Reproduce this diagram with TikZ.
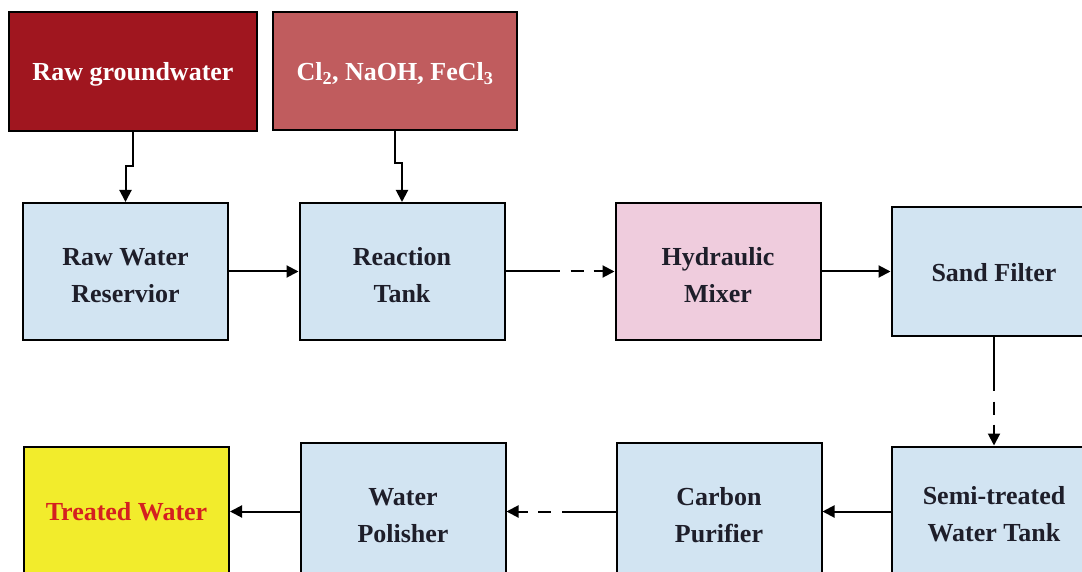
\documentclass[tikz,border=0pt]{standalone}
\usepackage{fontspec}
\setmainfont{Liberation Serif}
\usepackage{xcolor}
\usepackage{tikz}
\usetikzlibrary{arrows.meta}

\definecolor{stageblue}{HTML}{D2E4F2}
\definecolor{mixpink}{HTML}{EFCCDD}
\definecolor{rawred}{HTML}{A0161F}
\definecolor{chemred}{HTML}{C05C5E}
\definecolor{outyellow}{HTML}{F2EC2C}
\definecolor{outtext}{HTML}{D42020}
\definecolor{inktext}{HTML}{1E1E2A}

\tikzset{
  stagebox/.style={draw, rectangle, line width=2pt, fill=stageblue, text=inktext,
    minimum width=205pt, minimum height=137pt, align=center, text height=61pt, text depth=0pt},
  oneline/.style={text height=25pt, text depth=6pt},
  flow/.style={line width=2pt, -{Triangle[length=12pt, width=12pt]}},
  dashflow/.style={flow, dash pattern=on 54pt off 11pt on 13pt off 10pt on 60pt}
}

\begin{document}
\begin{tikzpicture}[x=1pt, y=-1pt, node distance=276pt,
    every node/.style={font=\fontsize{26}{37}\selectfont\bfseries}]
    \useasboundingbox (0,0) rectangle (1082,572);

    % Middle row
    \node[stagebox] (reservoir) at (125.5,271.5) {Raw Water\\Reservior};
    \node[stagebox, right of=reservoir, xshift=0.5pt] (reaction) {Reaction\\Tank};
    \node[stagebox, fill=mixpink, right of=reaction, xshift=40pt] (mixer) {Hydraulic\\Mixer};
    \node[stagebox, oneline, minimum height=128pt, right of=mixer] (sand) {Sand Filter};

    % Inputs
    \node[draw, rectangle, line width=2pt, fill=rawred, text=white, minimum width=248pt,
      minimum height=119pt, oneline, above of=reservoir, node distance=200pt, xshift=7.5pt] (ground) {Raw groundwater};
    \node[draw, rectangle, line width=2pt, fill=chemred, text=white, minimum width=244pt,
      minimum height=118pt, oneline, above of=reaction, node distance=200.5pt, xshift=-7pt] (chem)
      {Cl\textsubscript{2}, NaOH, FeCl\textsubscript{3}};

    % Bottom row
    \node[stagebox, minimum height=128pt, below of=sand, node distance=239pt] (semi) {Semi-treated\\Water Tank};
    \node[stagebox, left of=semi, node distance=275pt, yshift=-1pt] (carbon) {Carbon\\Purifier};
    \node[stagebox, left of=carbon, node distance=316pt] (polisher) {Water\\Polisher};
    \node[stagebox, oneline, fill=outyellow, text=outtext, minimum height=128pt, left of=polisher,
      node distance=276.5pt, yshift=1pt] (treated) {Treated Water};

    % Edges
    \draw[flow] (ground.south) -- ++(0,34) -| (reservoir.north);
    \draw[flow] (chem.south) -- ++(0,32) -| (reaction.north);
    \draw[flow] (reservoir) -- (reaction);
    \draw[dashflow] (reaction) -- (mixer);
    \draw[flow] (mixer) -- (sand.west |- mixer);
    \draw[dashflow] (sand) -- (semi);
    \draw[flow] (semi.west |- carbon) -- (carbon);
    \draw[dashflow] (carbon) -- (polisher);
    \draw[flow] (polisher) -- (treated.east |- polisher);
\end{tikzpicture}
\end{document}
